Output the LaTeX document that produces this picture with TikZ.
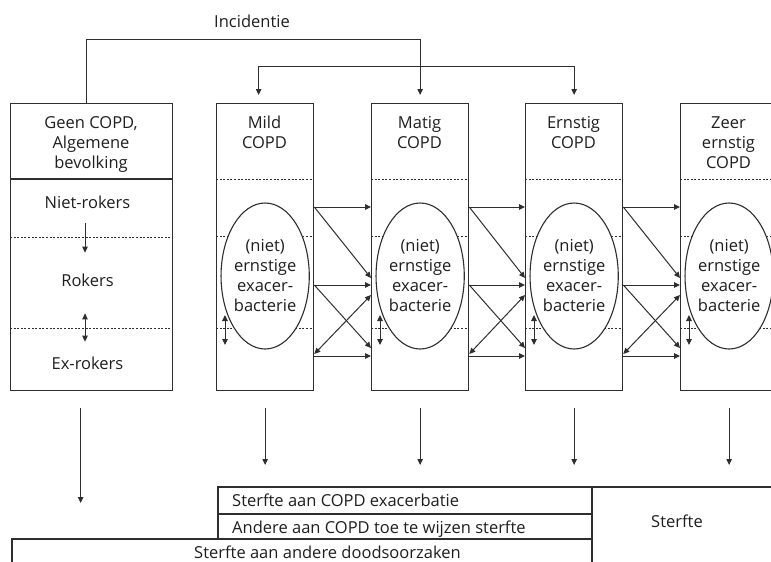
\documentclass[tikz,border=0pt]{standalone}
\usepackage{fontspec}
\setmainfont{Open Sans}
\usetikzlibrary{arrows.meta,shapes.geometric}
\definecolor{lijn}{HTML}{2E2E2E}
\definecolor{tekst}{HTML}{1E1E1E}
\tikzset{
  stadium/.style={draw=lijn,line width=1.3pt,minimum width=97pt,minimum height=287pt,inner sep=0pt,anchor=north west},
  kop/.style={align=center,anchor=base,inner sep=0pt},
  woord/.style={inner sep=0pt,anchor=base},
  exacerbatie/.style={ellipse,draw=lijn,line width=1.1pt,fill=white,minimum width=74pt,minimum height=146pt,inner sep=0pt,align=center},
  flow/.style={draw=lijn,line width=1pt,-{Triangle[length=6pt,width=5.5pt]}},
  twoway/.style={draw=lijn,line width=1pt,{Triangle[length=6pt,width=5.5pt]}-{Triangle[length=6pt,width=5.5pt]}},
  scheiding/.style={draw=lijn,line width=0.8pt,dash pattern=on 2pt off 1.6pt},
  rand/.style={draw=lijn,line width=1.3pt},
}
\begin{document}
\begin{tikzpicture}[x=1pt,y=-1pt,font=\fontsize{16.5}{20}\selectfont,text=tekst]
\useasboundingbox (0,0) rectangle (771,562);
\clip (0,0) rectangle (771,562);
% Geen COPD
\node[stadium,minimum width=162pt] (geen) at (10,103) {};
\node[kop] (geenkop) at (91,168.3) {Geen COPD,\\Algemene\\bevolking};
\draw[rand] ([yshift=-76pt]geen.north west) -- ([yshift=-76pt]geen.north east);
\foreach \y in {134,225}{
\draw[scheiding] ([yshift=-\y pt]geen.north west) -- ([yshift=-\y pt]geen.north east);
}
\node[woord] (niet) at (87.5,208.3) {Niet-rokers};
\node[woord] (rokers) at (87.5,286) {Rokers};
\node[woord] (exrokers) at (87.5,369) {Ex-rokers};
\draw[flow,shorten <=14.7pt,shorten >=20.6pt] ([xshift=-2.5pt]niet.south) -- ([xshift=-2.5pt]rokers.north);
\draw[twoway,shorten <=27pt,shorten >=14.6pt] ([xshift=-2.5pt]rokers.south) -- ([xshift=-2.5pt]exrokers.north);
% COPD stadia
\foreach \naam/\x/\y/\tekst in {mild/216/148.3/{Mild\\COPD},matig/371/148.3/{Matig\\COPD},ernstig/525/148.3/{Ernstig\\COPD},zeer/680/168.3/{Zeer\\ernstig\\COPD}}{
\node[stadium] (\naam) at (\x,103) {};
\node[kop] (kop\naam) at ({\x+48.5},\y) {\tekst};
\foreach \d in {76,133,225}{
\draw[scheiding] ([yshift=-\d pt]\naam.north west) -- ([yshift=-\d pt]\naam.north east);
}
\node[exacerbatie] (ex\naam) at ([yshift=-173pt]\naam.north) {(niet)\\ernstige\\exacer-\\bacterie};
\draw[twoway] ([xshift=9pt,yshift=-212pt]\naam.north west) -- ([xshift=9pt,yshift=-242pt]\naam.north west);
}
% Overgangen
\foreach \a/\b in {mild/matig,matig/ernstig,ernstig/zeer}{
\draw[flow] ([yshift=-104pt]\a.north east) -- ([yshift=-104pt]\b.north west);
\draw[flow] ([yshift=-104pt]\a.north east) -- ([yshift=-175pt]\b.north west);
\draw[flow] ([yshift=-182pt]\a.north east) -- ([yshift=-182pt]\b.north west);
\draw[flow] ([yshift=-182pt]\a.north east) -- ([yshift=-245pt]\b.north west);
\draw[twoway] ([yshift=-192pt]\b.north west) -- ([yshift=-251pt]\a.north east);
\draw[flow] ([yshift=-253pt]\a.north east) -- ([yshift=-253pt]\b.north west);
}
% Incidentie
\node[woord] (incidentie) at (252,27.3) {Incidentie};
\draw[flow] ([xshift=-5pt]geen.north) -- ++(0,-64) -| ([yshift=8pt]matig.north);
\draw[twoway] ([xshift=-6.5pt,yshift=8pt]mild.north) -- ++(0,-29) -| ([yshift=8pt]ernstig.north);
% Sterfte
\coordinate (dood) at (0,487);
\coordinate (anderedood) at (0,539);
\draw[rand] (218,539) -- (218,487) -- (775,487);
\draw[rand] (218,514) -- (592,514);
\draw[rand] (12,580) -- (12,539) -- (592,539);
\draw[rand] (592,487) -- (592,580);
\node[woord,anchor=base west] (copdexac) at (232,506.5) {Sterfte aan COPD exacerbatie};
\node[woord,anchor=base west] (copdander) at (232,533.3) {Andere aan COPD toe te wijzen sterfte};
\node[woord] (anderesterfte) at (327.5,558.5) {Sterfte aan andere doodsoorzaken};
\node[woord] (sterfte) at (677,527.5) {Sterfte};
\draw[flow,shorten <=17pt,shorten >=36pt] ([xshift=-11pt]geen.south) -- ([xshift=-11pt]geen.south |- anderedood);
\foreach \naam in {mild,matig,ernstig,zeer}{
\draw[flow,shorten <=17pt,shorten >=22pt] (\naam.south) -- (\naam.south |- dood);
}
\end{tikzpicture}
\end{document}
